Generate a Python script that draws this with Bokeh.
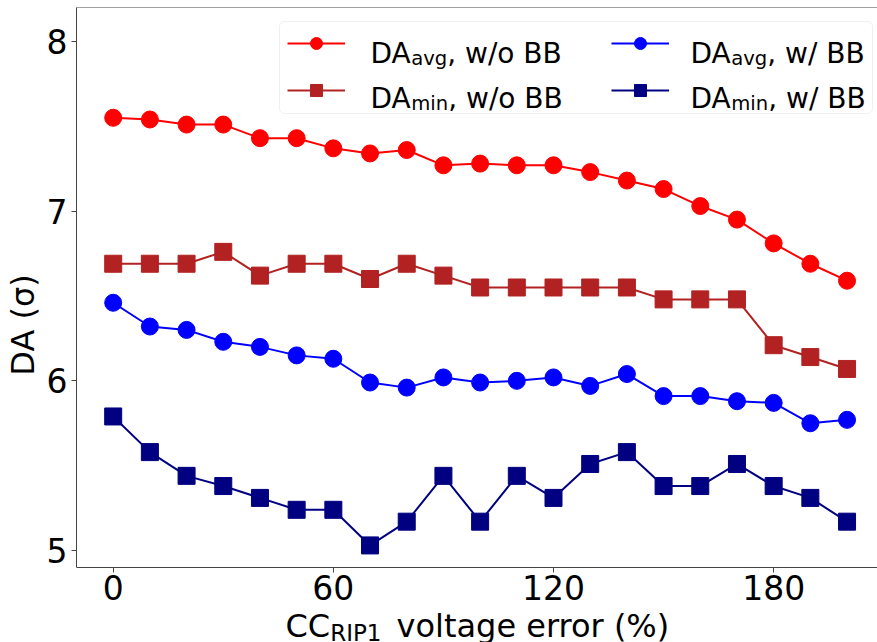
from bokeh.plotting import figure
from bokeh.models import (Range1d, FixedTicker, Label, Legend, LegendItem,
                          BoxAnnotation, Span)
from bokeh.embed import file_html
from bokeh.resources import INLINE

# ---- data ----
voltage_error = [0, 10, 20, 30, 40, 50, 60, 70, 80, 90, 100,
                 110, 120, 130, 140, 150, 160, 170, 180, 190, 200]
da_avg_wo_bb = [7.55, 7.54, 7.51, 7.51, 7.43, 7.43, 7.37, 7.34, 7.36, 7.27, 7.28,
                7.27, 7.27, 7.23, 7.18, 7.13, 7.03, 6.95, 6.81, 6.69, 6.59]
da_min_wo_bb = [6.69, 6.69, 6.69, 6.76, 6.62, 6.69, 6.69, 6.60, 6.69, 6.62, 6.55,
                6.55, 6.55, 6.55, 6.55, 6.48, 6.48, 6.48, 6.21, 6.14, 6.07]
da_avg_w_bb = [6.46, 6.32, 6.30, 6.23, 6.20, 6.15, 6.13, 5.99, 5.96, 6.02, 5.99,
               6.00, 6.02, 5.97, 6.04, 5.91, 5.91, 5.88, 5.87, 5.75, 5.77]
da_min_w_bb = [5.79, 5.58, 5.44, 5.38, 5.31, 5.24, 5.24, 5.03, 5.17, 5.44, 5.17,
               5.44, 5.31, 5.51, 5.58, 5.38, 5.38, 5.51, 5.38, 5.31, 5.17]
x_ticks = [0, 60, 120, 180]
y_ticks = [5, 6, 7, 8]
X_START, X_END = -10.0, 208.3
Y_AXIS_BOTTOM, Y_END = 4.90, 8.20      # visible axes box
Y_START = 4.458                        # extra room below for the x-axis texts

FONT = "DejaVu Sans"

p = figure(width=877, height=642, output_backend="svg", toolbar_location=None,
           x_range=Range1d(X_START, X_END), y_range=Range1d(Y_START, Y_END),
           min_border_left=76, min_border_right=0, min_border_top=7,
           min_border_bottom=0)
p.background_fill_color = "white"
p.border_fill_color = "white"
p.outline_line_color = None
p.grid.visible = False

for ax in (p.xaxis[0], p.yaxis[0]):
    ax.axis_line_color = "#444444"
    ax.axis_line_width = 1
    ax.major_tick_line_color = "#444444"
    ax.major_tick_out = 5
    ax.major_tick_in = 0
    ax.minor_tick_line_color = None
    ax.major_label_text_font = FONT
    ax.major_label_text_font_size = "33px"
    ax.major_label_text_color = "black"

p.xaxis[0].ticker = FixedTicker(ticks=x_ticks)
p.xaxis[0].fixed_location = Y_AXIS_BOTTOM
p.yaxis[0].ticker = FixedTicker(ticks=y_ticks)
p.yaxis[0].bounds = (Y_AXIS_BOTTOM, Y_END)
p.xaxis[0].major_label_standoff = 3
p.yaxis[0].major_label_standoff = 4
p.yaxis[0].axis_label = "DA (σ)"
p.yaxis[0].axis_label_text_font = FONT
p.yaxis[0].axis_label_text_font_size = "32px"
p.yaxis[0].axis_label_text_font_style = "normal"
p.yaxis[0].axis_label_text_color = "black"
p.yaxis[0].axis_label_standoff = 2

# top spine
p.add_layout(Span(location=Y_END, dimension="width", line_color="#444444", line_width=1))

series = [
    (da_avg_wo_bb, "red", "circle"),
    (da_min_wo_bb, "#b22222", "square"),
    (da_avg_w_bb, "#0000ff", "circle"),
    (da_min_w_bb, "#000080", "square"),
]
items = []
for ys, col, mk in series:
    rl = p.line(voltage_error, ys, line_color=col, line_width=2)
    rs = p.scatter(voltage_error, ys, marker=mk, size=17, fill_color=col, line_color=col)
    items.append(LegendItem(label=" ", renderers=[rl, rs]))

# screen positions below are measured from the frame's bottom-left corner
FB = 642  # canvas y of the frame bottom

# legend frame
p.add_layout(BoxAnnotation(left=203, right=796, top=FB - 21, bottom=FB - 113,
                           left_units="screen", right_units="screen",
                           top_units="screen", bottom_units="screen",
                           fill_color="white", fill_alpha=0.8,
                           line_color="#cccccc", line_width=1, border_radius=5,
                           level="annotation"))

for col_idx, vx in enumerate([211, 535]):
    leg = Legend(items=items[2 * col_idx:2 * col_idx + 2], location=(vx, FB - 105),
                 glyph_width=58, glyph_height=30, label_height=30, label_width=0,
                 label_standoff=0, padding=0, margin=0, spacing=17,
                 label_text_font_size="1px", background_fill_alpha=0,
                 border_line_alpha=0)
    p.add_layout(leg)

# legend texts
legend_main = ["DA", "DA", "DA", "DA"]
legend_sub = ["avg", "min", "avg", "min"]
legend_rest = [", w/o BB", ", w/o BB", ", w/ BB", ", w/ BB"]
col_x = [294, 294, 614, 614]
row_y = [FB - 53, FB - 98, FB - 53, FB - 98]
sub_w = [36, 37, 36, 37]
for i in range(4):
    p.add_layout(Label(x=col_x[i], y=row_y[i], x_units="screen", y_units="screen",
                       text=legend_main[i], text_font=FONT, text_font_size="28px",
                       text_baseline="alphabetic", text_color="black"))
    p.add_layout(Label(x=col_x[i] + 40.7, y=row_y[i] - 5, x_units="screen", y_units="screen",
                       text=legend_sub[i], text_font=FONT, text_font_size="19.6px",
                       text_baseline="alphabetic", text_color="black"))
    p.add_layout(Label(x=col_x[i] + 40.7 + sub_w[i], y=row_y[i], x_units="screen",
                       y_units="screen", text=legend_rest[i], text_font=FONT,
                       text_font_size="28px", text_baseline="alphabetic",
                       text_color="black"))

# x axis label with subscript
p.add_layout(Label(x=209, y=FB - 625, x_units="screen", y_units="screen", text="CC",
                   text_font=FONT, text_font_size="32px", text_baseline="alphabetic",
                   text_color="black"))
p.add_layout(Label(x=253.7, y=FB - 632, x_units="screen", y_units="screen", text="RIP1",
                   text_font=FONT, text_font_size="23px", text_baseline="alphabetic",
                   text_color="black"))
p.add_layout(Label(x=320, y=FB - 625, x_units="screen", y_units="screen",
                   text="voltage error (%)", text_font=FONT, text_font_size="32px",
                   text_baseline="alphabetic", text_color="black"))

open("out.html", "w").write(file_html(p, INLINE))
